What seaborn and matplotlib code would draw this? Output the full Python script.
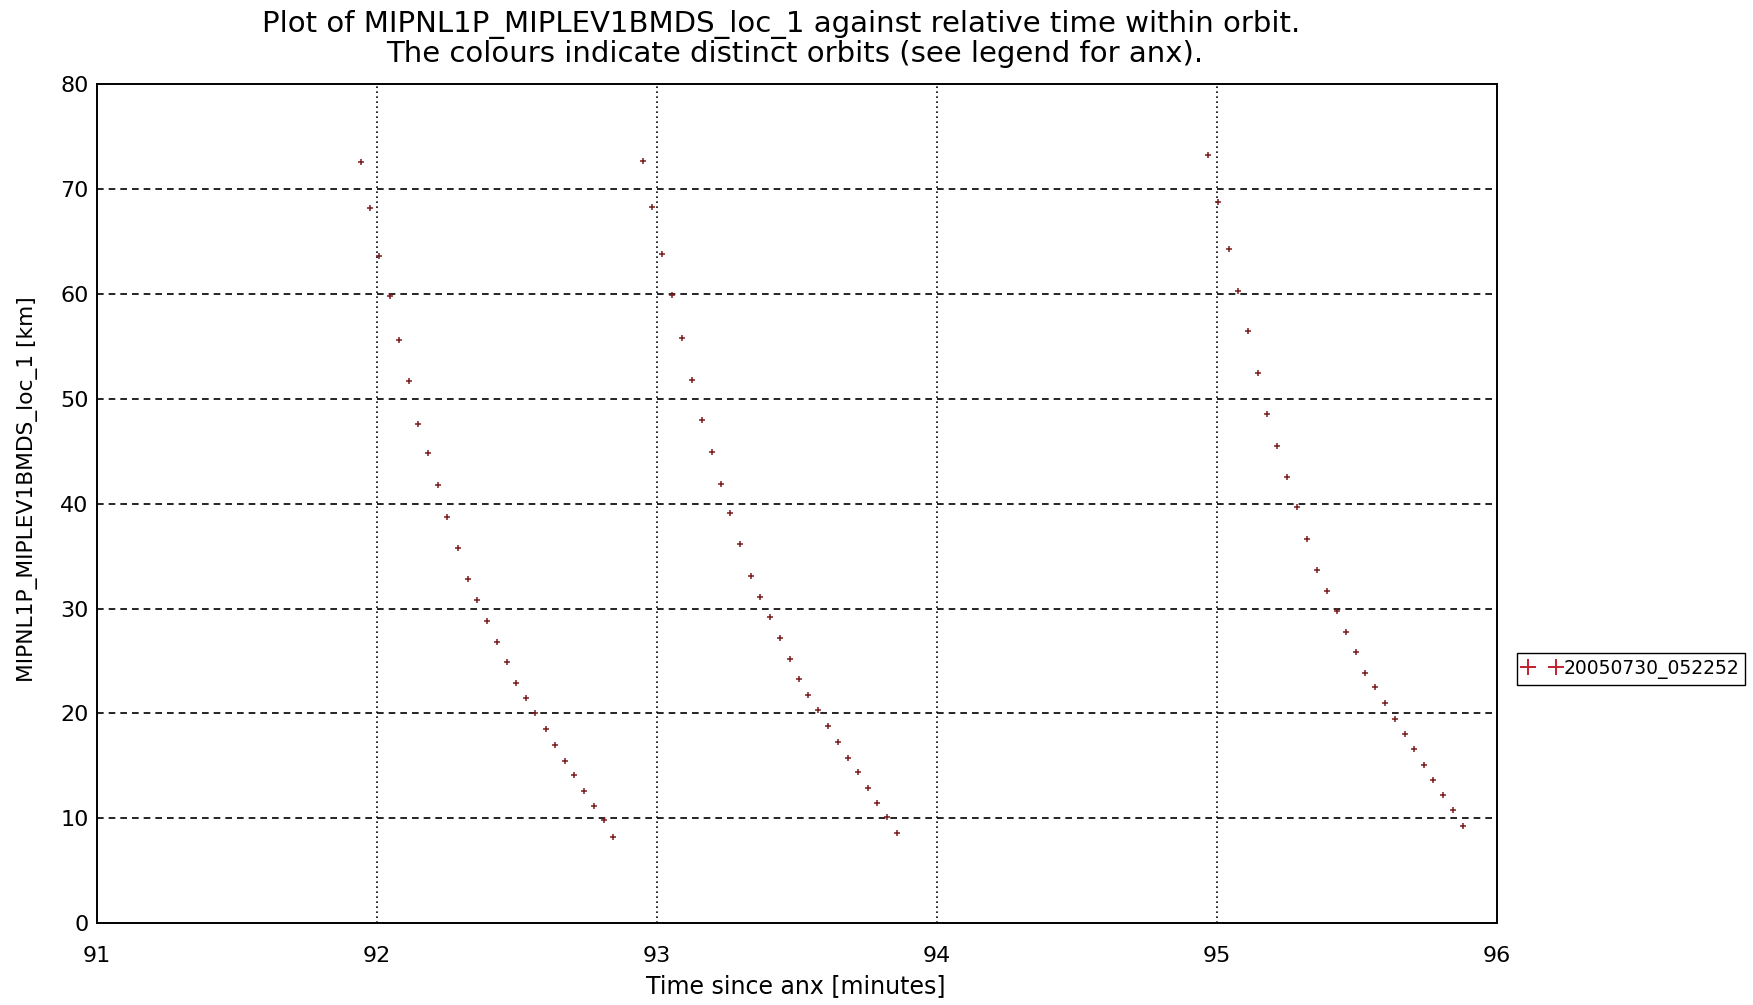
import matplotlib
matplotlib.use("Agg")
import matplotlib.pyplot as plt
import seaborn as sns
import pandas as pd
from matplotlib.lines import Line2D

# time since anx [minutes] and altitude [km] for the three passes
pass1_time = [91.942, 91.975, 92.008, 92.046, 92.079, 92.114, 92.148, 92.183, 92.219,
              92.251, 92.290, 92.326, 92.358, 92.394, 92.428, 92.463, 92.496, 92.532,
              92.564, 92.604, 92.636, 92.671, 92.705, 92.740, 92.776, 92.812, 92.844]
pass1_alt = [72.5, 68.1, 63.6, 59.8, 55.6, 51.7, 47.6, 44.8, 41.8,
             38.7, 35.8, 32.8, 30.8, 28.8, 26.8, 24.9, 22.9, 21.5,
             20.0, 18.5, 17.0, 15.5, 14.1, 12.6, 11.2, 9.9, 8.2]

pass2_time = [92.949, 92.983, 93.019, 93.052, 93.088, 93.124, 93.160, 93.198, 93.229,
              93.262, 93.296, 93.334, 93.368, 93.404, 93.439, 93.475, 93.507, 93.540,
              93.576, 93.612, 93.648, 93.683, 93.719, 93.755, 93.787, 93.820, 93.856]
pass2_alt = [72.6, 68.2, 63.8, 59.9, 55.8, 51.8, 48.0, 44.9, 41.9,
             39.1, 36.1, 33.1, 31.1, 29.2, 27.2, 25.2, 23.3, 21.8,
             20.3, 18.8, 17.3, 15.8, 14.4, 12.9, 11.5, 10.1, 8.6]

pass3_time = [94.969, 95.005, 95.043, 95.076, 95.112, 95.148, 95.180, 95.215, 95.249,
              95.287, 95.320, 95.356, 95.392, 95.428, 95.461, 95.496, 95.529, 95.564,
              95.600, 95.636, 95.671, 95.705, 95.739, 95.772, 95.808, 95.844, 95.877]
pass3_alt = [73.2, 68.7, 64.2, 60.2, 56.4, 52.4, 48.5, 45.5, 42.5,
             39.7, 36.6, 33.7, 31.7, 29.8, 27.8, 25.9, 23.9, 22.5,
             21.0, 19.5, 18.0, 16.6, 15.1, 13.7, 12.2, 10.8, 9.3]

orbit_label = "20050730_052252"
x_ticks = [91, 92, 93, 94, 95, 96]
y_ticks = [0, 10, 20, 30, 40, 50, 60, 70, 80]

df = pd.DataFrame({
    "time": pass1_time + pass2_time + pass3_time,
    "alt": pass1_alt + pass2_alt + pass3_alt,
})
df["orbit"] = orbit_label

sns.set_theme(style="white")
plt.rcParams['font.family'] = ['DejaVu Sans']
plt.rcParams['text.color'] = 'black'

fig = plt.figure(figsize=(17.53, 10.05), dpi=100)
ax = fig.add_axes([0.0553, 0.0811, 0.7987, 0.8358])

mark_color = "#7a1c1c"
sns.scatterplot(data=df, x="time", y="alt", marker="+", color=mark_color,
                s=20, linewidth=1.1, ax=ax, legend=False)

ax.set_xlim(91, 96)
ax.set_ylim(0, 80)
ax.set_xticks(x_ticks)
ax.set_yticks(y_ticks)
ax.tick_params(axis="x", labelsize=16, length=0, pad=16, colors="black")
ax.tick_params(axis="y", labelsize=16, length=0, pad=6, colors="black")

for y in y_ticks[1:-1]:
    ax.axhline(y, color="black", linestyle=(0, (4, 3)), linewidth=1.2, zorder=0)
for x in x_ticks[1:-1]:
    ax.axvline(x, color="black", linestyle=(0, (1, 2)), linewidth=1.2, zorder=0)

for sp in ax.spines.values():
    sp.set_color("black")
    sp.set_linewidth(1.4)

ax.set_xlabel("")
ax.set_ylabel("")
fig.text(0.4541, 1 - 986 / 1005, "Time since anx [minutes]", fontsize=17,
         ha="center", va="center")
fig.text(28 / 1753, 0.5134, "MIPNL1P_MIPLEV1BMDS_loc_1 [km]", fontsize=15.7,
         ha="center", va="center", rotation=90)

fig.text(0.4457, 1 - 24.6 / 1005,
         "Plot of MIPNL1P_MIPLEV1BMDS_loc_1 against relative time within orbit.",
         fontsize=21, ha="center", va="center")
fig.text(0.4535, 1 - 53.7 / 1005,
         "The colours indicate distinct orbits (see legend for anx).",
         fontsize=21, ha="center", va="center")

handle = Line2D([], [], color="#c02030", marker="+", linestyle="none",
                markersize=12, markeredgewidth=1.4)
fig.legend(handles=[handle], labels=[orbit_label], numpoints=2,
           loc="center left", bbox_to_anchor=(0.8654, 0.3343),
           fontsize=13.5, frameon=True, fancybox=False, edgecolor="black",
           handlelength=2.1, handletextpad=0.1, borderpad=0.3, borderaxespad=0,
           framealpha=1)

fig.savefig("out.png", dpi=100, facecolor="white")
